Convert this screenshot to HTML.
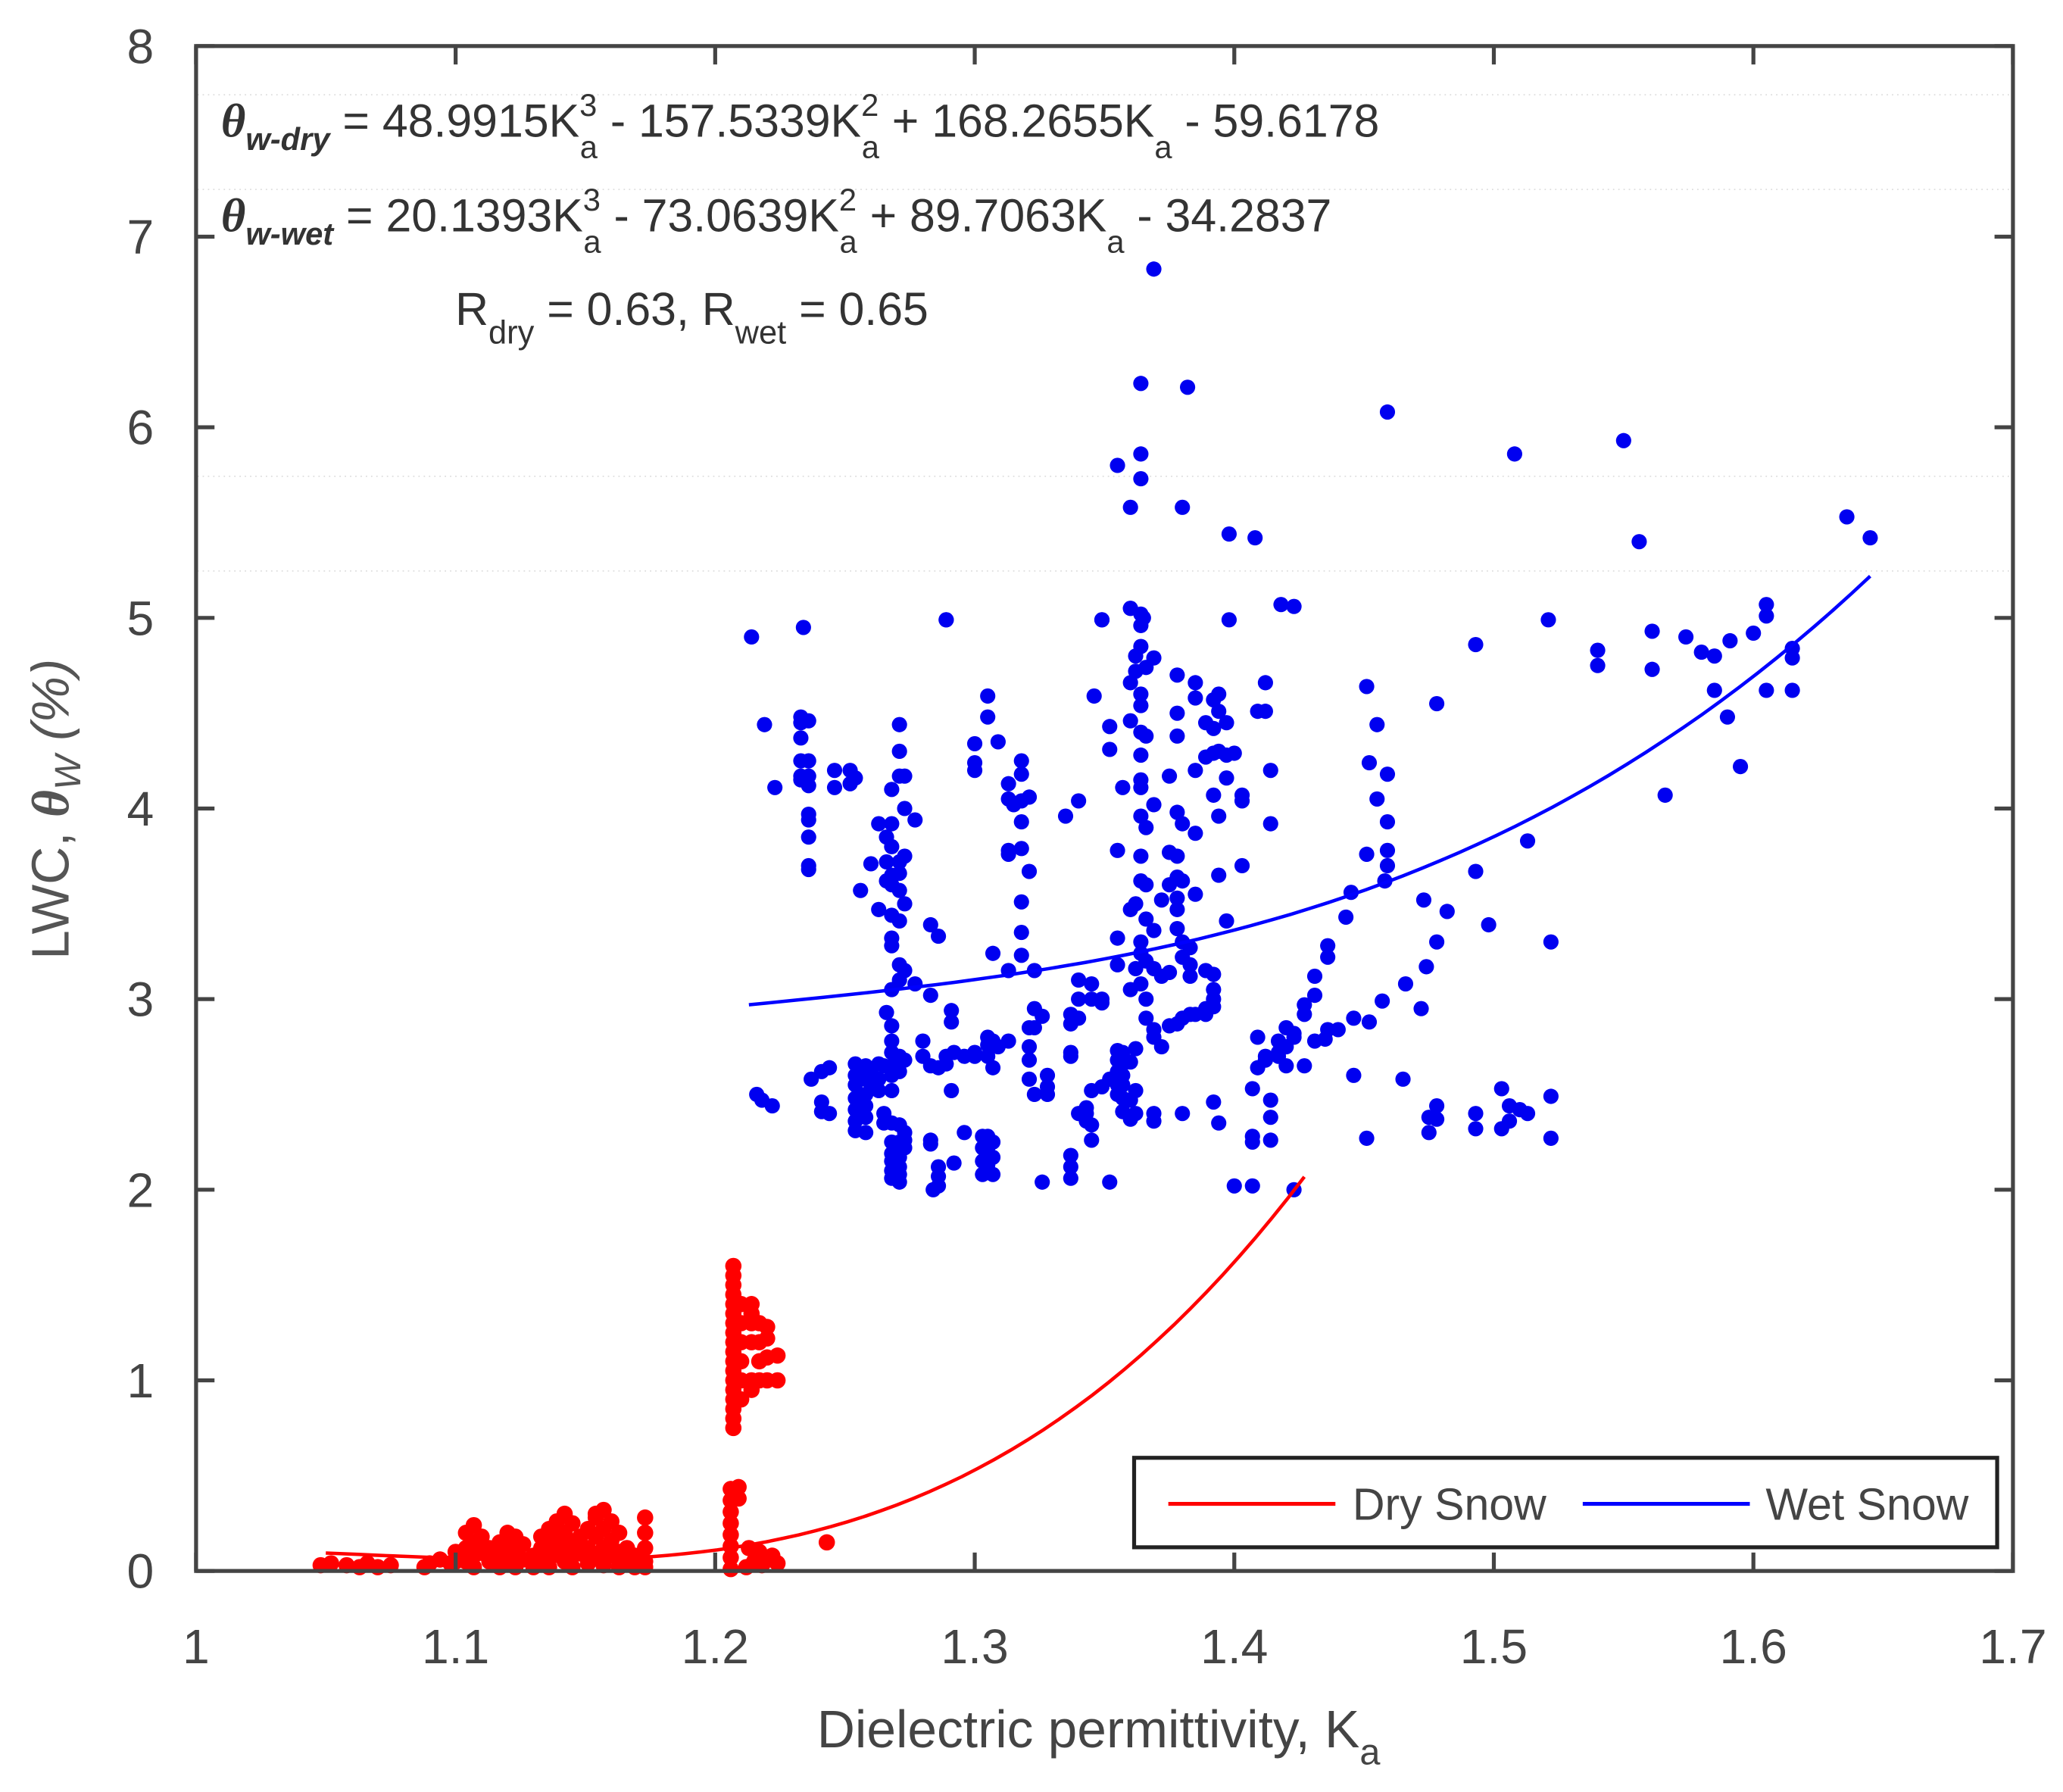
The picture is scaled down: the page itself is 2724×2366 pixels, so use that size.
<!DOCTYPE html>
<html><head><meta charset="utf-8"><style>
html,body{margin:0;padding:0;background:#fff;}
svg{display:block;font-family:"Liberation Sans",Arial,sans-serif;}
</style></head><body>
<svg id="chart" width="2724" height="2366" viewBox="0 0 1568 1362" xmlns="http://www.w3.org/2000/svg">
<rect width="1568" height="1362" fill="#fff"/>
<g id="grid" stroke="#ddd" stroke-width="1" stroke-dasharray="1,3">
<line x1="150" x2="1528" y1="72" y2="72"/><line x1="150" x2="1528" y1="144" y2="144"/>
<line x1="150" x2="1528" y1="362" y2="362"/><line x1="150" x2="1528" y1="434" y2="434"/>
</g>
<g id="marks"></g>
<g id="axes"></g>
<g fill="#333" font-size="35">
<text x="168" y="104"><tspan font-weight="bold" font-style="italic" font-family="Liberation Serif,serif" font-size="36">θ</tspan><tspan font-weight="bold" font-style="italic" font-size="24" dy="10">w-dry</tspan><tspan dy="-10"> = 48.9915K</tspan><tspan font-size="24" dy="-16">3</tspan><tspan font-size="24" dx="-13" dy="32">a</tspan><tspan dy="-16"> - 157.5339K</tspan><tspan font-size="24" dy="-16">2</tspan><tspan font-size="24" dx="-13" dy="32">a</tspan><tspan dy="-16"> + 168.2655K</tspan><tspan font-size="24" dy="16">a</tspan><tspan dy="-16"> - 59.6178</tspan></text>
<text x="168" y="176"><tspan font-weight="bold" font-style="italic" font-family="Liberation Serif,serif" font-size="36">θ</tspan><tspan font-weight="bold" font-style="italic" font-size="24" dy="10">w-wet</tspan><tspan dy="-10"> = 20.1393K</tspan><tspan font-size="24" dy="-16">3</tspan><tspan font-size="24" dx="-13" dy="32">a</tspan><tspan dy="-16"> - 73.0639K</tspan><tspan font-size="24" dy="-16">2</tspan><tspan font-size="24" dx="-13" dy="32">a</tspan><tspan dy="-16"> + 89.7063K</tspan><tspan font-size="24" dy="16">a</tspan><tspan dy="-16"> - 34.2837</tspan></text>
<text x="346" y="247">R<tspan font-size="25" dy="14">dry</tspan><tspan dy="-14"> = 0.63,  R</tspan><tspan font-size="25" dy="14">wet</tspan><tspan dy="-14"> = 0.65</tspan></text>
</g>
<text transform="translate(52,615) rotate(-90)" text-anchor="middle" font-size="40" fill="#555">LWC,  <tspan font-style="italic" font-weight="bold" font-family="Liberation Serif,serif">θ</tspan><tspan font-style="italic" font-size="28" dy="9">W</tspan><tspan dy="-9" font-style="italic"> (%)</tspan></text>
<text x="835" y="1328" text-anchor="middle" font-size="40" fill="#444">Dielectric permittivity, K<tspan font-size="28" dy="13">a</tspan></text>
<g>
<rect x="862" y="1108" width="656" height="68" fill="#fff" stroke="#222" stroke-width="3"/>
<line x1="888" x2="1015" y1="1143" y2="1143" stroke="#f00" stroke-width="3"/>
<text x="1028" y="1155" font-size="34" fill="#444">Dry Snow</text>
<line x1="1203" x2="1330" y1="1143" y2="1143" stroke="#00f" stroke-width="3"/>
<text x="1342" y="1155" font-size="34" fill="#444">Wet Snow</text>
</g>
</svg>
<script>
const xTicks=[1,1.1,1.2,1.3,1.4,1.5,1.6,1.7];
const xTickLabels=["1","1.1","1.2","1.3","1.4","1.5","1.6","1.7"];
const yTicks=[0,1,2,3,4,5,6,7,8];
const yTickLabels=["0","1","2","3","4","5","6","7","8"];
const dryCoef=[48.9915,-157.5339,168.2655,-59.6178];
const wetCoef=[20.1393,-73.0639,89.7063,-34.2837];
const dryRange=[1.05,1.427];
const wetRange=[1.213,1.645];
const wetX=[1.369,1.364,1.382,1.459,1.550,1.508,1.364,1.355,1.364,1.360,1.380,1.636,1.645,1.556,1.398,1.408,1.418,1.423,1.214,1.234,1.289,1.349,1.360,1.365,1.398,1.521,1.493,1.540,1.540,1.561,1.561,1.574,1.580,1.585,1.591,1.600,1.605,1.605,1.615,1.615,1.585,1.590,1.605,1.615,1.595,1.566,1.451,1.478,1.455,1.452,1.459,1.455,1.459,1.451,1.459,1.459,1.458,1.445,1.443,1.473,1.482,1.493,1.498,1.478,1.474,1.466,1.522,1.513,1.457,1.472,1.446,1.452,1.440,1.435,
1.216,1.218,1.222,1.219,1.223,1.233,1.233,1.233,1.233,1.233,1.233,1.236,1.236,1.236,1.236,1.236,1.236,1.236,1.236,1.236,1.237,1.241,1.241,1.241,1.244,1.244,1.246,1.246,1.252,1.252,1.254,1.254,1.254,1.254,1.254,1.254,1.254,1.254,1.258,1.258,1.258,1.258,1.258,1.258,1.256,1.260,1.260,1.260,1.263,1.263,1.263,1.263,1.263,1.265,1.265,1.265,1.266,1.266,1.266,1.266,
1.268,1.268,1.268,1.268,1.268,1.268,1.268,1.268,1.268,1.268,1.268,1.268,1.268,1.268,1.268,1.268,1.268,1.268,1.268,1.268,1.268,
1.271,1.271,1.271,1.271,1.271,1.271,1.271,1.271,1.271,1.271,1.271,1.271,1.271,1.271,1.271,1.271,1.271,
1.273,1.273,1.273,1.273,1.273,1.273,1.273,1.273,1.273,1.277,1.277,1.280,1.280,1.283,1.283,1.283,1.283,1.283,1.286,1.286,1.286,1.286,1.286,1.284,1.289,1.289,1.289,1.291,1.291,1.291,1.292,1.292,1.296,1.296,1.300,1.300,1.300,1.300,1.300,1.303,1.303,1.303,1.303,
1.305,1.305,1.305,1.305,1.305,1.305,1.305,1.305,1.305,1.307,1.307,1.307,1.307,1.307,1.307,1.309,1.309,1.313,1.313,1.313,1.313,1.313,1.313,1.315,1.318,1.318,1.318,1.318,1.318,1.318,1.318,1.318,1.321,1.321,1.321,1.321,1.321,1.321,1.323,1.323,1.323,1.323,1.326,1.326,1.328,1.328,1.328,1.335,
1.337,1.337,1.337,1.337,1.337,1.337,1.337,1.340,1.340,1.340,1.340,1.340,1.343,1.343,1.343,1.345,1.345,1.345,1.345,1.345,1.346,1.349,1.349,1.349,1.349,1.352,1.352,1.352,1.352,
1.355,1.355,1.355,1.355,1.355,1.355,1.355,1.355,1.357,1.357,1.357,1.357,1.357,1.357,1.357,1.360,1.360,1.360,1.360,1.360,1.360,1.360,1.360,1.362,1.362,1.362,1.362,1.362,1.362,1.362,
1.364,1.364,1.364,1.364,1.364,1.364,1.364,1.364,1.364,1.364,1.364,1.364,1.364,1.364,1.364,1.366,1.366,1.366,1.366,1.366,1.366,1.366,1.366,1.369,1.369,1.369,1.369,1.369,1.369,1.369,1.369,1.372,1.372,1.372,1.375,1.375,1.375,1.375,1.375,
1.378,1.378,1.378,1.378,1.378,1.378,1.378,1.378,1.378,1.378,1.380,1.380,1.380,1.380,1.380,1.380,1.383,1.383,1.383,1.383,1.385,1.385,1.385,1.385,1.385,1.385,1.389,1.389,1.389,1.389,1.389,
1.392,1.392,1.392,1.392,1.392,1.392,1.392,1.392,1.392,1.394,1.394,1.394,1.394,1.394,1.394,1.397,1.397,1.397,1.397,1.400,1.400,1.403,1.403,1.403,1.407,1.407,1.407,1.407,1.409,1.409,1.409,1.412,1.412,1.412,1.412,1.414,1.414,1.414,1.414,1.414,1.417,1.417,1.417,1.420,1.420,1.420,1.423,1.423,1.423,1.427,1.427,1.427,1.431,1.431,1.431,1.436,1.436,1.436,
1.446,1.451,1.475,1.475,1.478,1.478,1.493,1.493,1.503,1.503,1.506,1.506,1.510,1.513,1.522,1.522,1.465];
const wetY=[6.83,6.23,6.21,6.08,5.93,5.86,5.86,5.80,5.73,5.58,5.58,5.53,5.42,5.40,5.44,5.42,5.07,5.06,4.90,4.95,4.99,4.99,5.05,5.00,4.99,4.99,4.86,4.83,4.75,4.93,4.73,4.90,4.82,4.80,4.88,4.92,5.07,5.01,4.84,4.79,4.62,4.48,4.62,4.62,4.22,4.07,4.64,4.55,4.44,4.24,4.18,4.05,3.93,3.76,3.78,3.70,3.62,3.56,3.43,3.52,3.46,3.67,3.39,3.30,3.17,3.08,3.30,3.83,2.99,2.95,2.90,2.88,2.84,2.79,
2.50,2.47,2.44,4.44,4.11,4.48,4.45,4.37,4.25,4.17,4.15,4.46,4.25,4.17,4.12,3.97,3.94,3.85,3.70,3.68,2.58,2.62,2.46,2.41,2.64,2.40,4.20,4.11,4.20,4.13,4.16,2.66,2.60,2.55,2.48,2.42,2.36,2.31,2.65,2.58,2.50,2.44,2.38,2.30,3.57,3.71,2.62,2.55,3.92,3.47,2.66,2.58,2.52,2.65,2.40,2.35,3.85,3.72,3.62,2.93,
4.10,3.92,3.80,3.65,3.60,3.44,3.32,3.28,3.05,2.86,2.78,2.72,2.65,2.60,2.52,2.35,2.25,2.19,2.15,2.10,2.06,
4.44,4.30,4.17,3.72,3.66,3.57,3.41,3.18,3.10,2.70,2.62,2.34,2.25,2.17,2.12,2.08,2.04,
4.00,4.17,3.75,3.50,3.15,2.68,2.30,2.26,2.22,3.94,3.08,2.78,2.70,3.39,3.02,2.65,2.26,2.24,3.33,2.64,2.12,2.07,2.02,2.00,4.99,2.70,2.66,2.94,2.88,2.52,2.72,2.14,2.70,2.30,4.34,4.24,4.20,2.72,2.70,2.28,2.22,2.15,2.08,
4.59,4.48,2.80,2.76,2.70,2.28,2.22,2.13,2.09,2.78,3.24,2.64,2.25,2.17,2.08,4.35,2.75,4.13,4.05,3.78,3.76,3.15,2.78,4.02,4.25,4.18,4.04,3.93,3.79,3.51,3.35,3.23,4.06,3.67,2.85,2.75,2.68,2.58,3.15,2.95,2.85,2.50,2.91,2.04,2.60,2.54,2.50,3.96,
2.92,2.87,2.72,2.70,2.18,2.12,2.06,4.04,3.10,3.00,2.90,2.40,2.43,2.40,2.36,3.08,3.00,2.52,2.34,2.26,4.59,4.99,3.00,2.98,2.54,4.43,4.31,2.58,2.04,
3.78,3.32,3.18,2.73,2.68,2.62,2.55,2.50,4.11,2.72,2.66,2.60,2.55,2.48,2.41,5.05,4.66,4.46,3.47,3.05,2.67,2.47,2.37,4.80,4.72,3.50,3.16,2.74,2.52,2.40,
5.02,4.96,4.85,4.60,4.54,4.40,4.28,4.15,4.11,3.96,3.75,3.62,3.30,3.24,3.08,4.74,4.38,3.90,3.60,3.42,3.20,3.00,2.90,4.79,4.02,3.36,3.16,2.84,2.80,2.40,2.36,3.52,3.12,2.75,4.17,3.77,3.60,3.14,2.86,
4.70,4.50,4.38,3.98,3.75,3.64,3.53,3.47,3.37,2.87,3.92,3.62,3.30,3.22,2.90,2.40,3.27,3.18,3.12,2.92,4.66,4.58,4.20,3.87,3.55,2.92,4.45,4.27,3.15,2.95,2.92,
4.57,4.42,4.29,4.07,3.13,3.05,3.00,2.96,2.46,4.60,4.51,4.30,3.96,3.65,2.35,4.45,4.28,4.16,3.41,4.29,2.02,4.07,4.04,3.70,2.53,2.28,2.25,2.02,4.51,2.80,2.64,4.66,4.51,2.70,2.68,4.20,3.92,2.47,2.26,2.38,2.78,2.72,2.70,2.85,2.75,2.65,2.82,2.80,2.00,2.97,2.92,2.65,3.12,3.02,2.78,3.22,3.28,2.84,
2.60,2.27,2.38,2.30,2.44,2.37,2.40,2.32,2.53,2.32,2.44,2.36,2.42,2.40,2.49,2.27,2.58];
const dryX=[1.048,1.052,1.058,1.063,1.066,1.070,1.075,1.088,1.090,1.094,1.098,1.100,1.100,1.104,1.104,1.104,1.107,1.107,1.107,1.107,1.110,1.110,1.113,1.113,1.117,1.117,1.117,1.120,1.120,1.120,1.123,1.123,1.123,1.126,1.126,1.130,1.130,1.133,1.133,1.133,1.136,1.136,1.136,1.136,1.139,1.139,1.139,1.142,1.142,1.142,1.142,1.145,1.145,1.145,1.145,1.148,1.148,1.151,1.151,1.151,1.154,1.154,1.154,1.154,1.157,1.157,1.157,1.157,1.160,1.160,1.160,1.163,1.163,1.163,1.166,1.166,1.169,1.169,1.173,1.173,1.173,1.173,1.173,
1.206,1.206,1.206,1.206,1.206,1.206,1.206,1.206,1.209,1.209,
1.207,1.207,1.207,1.207,1.207,1.207,1.207,1.207,1.207,1.207,1.207,1.207,1.207,1.207,1.207,1.207,1.207,1.207,
1.210,1.210,1.210,1.210,1.210,1.210,1.214,1.214,1.214,1.214,1.214,1.214,1.217,1.217,1.217,1.217,1.220,1.220,1.220,1.220,1.224,1.224,
1.212,1.215,1.218,1.221,1.224,1.213,1.217,1.222,1.243];
const dryY=[0.03,0.04,0.03,0.02,0.04,0.02,0.03,0.02,0.04,0.06,0.04,0.05,0.10,0.12,0.20,0.05,0.24,0.15,0.08,0.02,0.18,0.10,0.12,0.05,0.15,0.08,0.02,0.20,0.12,0.04,0.18,0.10,0.02,0.14,0.06,0.08,0.02,0.18,0.12,0.05,0.22,0.14,0.06,0.02,0.26,0.18,0.10,0.30,0.20,0.12,0.05,0.25,0.15,0.08,0.02,0.18,0.10,0.22,0.12,0.04,0.28,0.30,0.18,0.08,0.32,0.22,0.12,0.03,0.26,0.16,0.08,0.20,0.10,0.02,0.12,0.05,0.08,0.02,0.28,0.20,0.12,0.05,0.02,
0.43,0.37,0.31,0.25,0.19,0.13,0.07,0.01,0.44,0.38,
1.60,1.55,1.50,1.45,1.40,1.35,1.30,1.25,1.20,1.15,1.10,1.05,1.00,0.95,0.90,0.85,0.80,0.75,
1.40,1.30,1.20,1.10,1.00,0.90,1.40,1.35,1.30,1.20,1.00,0.95,1.30,1.20,1.10,1.00,1.28,1.22,1.12,1.00,1.13,1.00,
0.02,0.05,0.03,0.06,0.04,0.12,0.10,0.08,0.15];

const NS="http://www.w3.org/2000/svg";
const L=149,R=1530,T=35,B=1194;
function X(v){return L+(v-1)/0.7*(R-L);}
function Y(v){return B-v/8*(B-T);}
function poly(c,k){return c[0]*k*k*k+c[1]*k*k+c[2]*k+c[3];}
const marks=document.getElementById('marks');
const axes=document.getElementById('axes');

const gWet=document.createElementNS(NS,'g');


marks.appendChild(gWet);
for(let i=0;i<wetX.length;i++){
  const c=document.createElementNS(NS,'circle');
  c.setAttribute('cx',X(wetX[i]));c.setAttribute('cy',Y(wetY[i]));c.setAttribute('r',5.8);c.setAttribute('fill','#0000f0');
  
  
  gWet.appendChild(c);
}
const gDry=document.createElementNS(NS,'g');


marks.appendChild(gDry);
for(let i=0;i<dryX.length;i++){
  const c=document.createElementNS(NS,'circle');
  c.setAttribute('cx',X(dryX[i]));c.setAttribute('cy',Y(dryY[i]));c.setAttribute('r',6.2);c.setAttribute('fill','#f00');
  
  
  gDry.appendChild(c);
}
function curve(coef,rng,color,name){
  let d='';
  for(let i=0;i<=60;i++){const k=rng[0]+(rng[1]-rng[0])*i/60;d+=(i?'L':'M')+X(k).toFixed(1)+','+Y(poly(coef,k)).toFixed(1);}
  const p=document.createElementNS(NS,'path');
  p.setAttribute('d',d);p.setAttribute('fill','none');p.setAttribute('stroke',color);p.setAttribute('stroke-width',2.6);
  
  
  marks.appendChild(p);
}
curve(dryCoef,dryRange,'#f00','dry-fit-curve');
curve(wetCoef,wetRange,'#00f','wet-fit-curve');

const fr=document.createElementNS(NS,'rect');
fr.setAttribute('x',L);fr.setAttribute('y',T);fr.setAttribute('width',R-L);fr.setAttribute('height',B-T);
fr.setAttribute('fill','none');fr.setAttribute('stroke','#444');fr.setAttribute('stroke-width',3);


axes.appendChild(fr);
function ln(x1,y1,x2,y2){const l=document.createElementNS(NS,'line');l.setAttribute('x1',x1);l.setAttribute('y1',y1);l.setAttribute('x2',x2);l.setAttribute('y2',y2);l.setAttribute('stroke','#444');l.setAttribute('stroke-width',3);


axes.appendChild(l);}
function tx(x,y,s,anchor){const t=document.createElementNS(NS,'text');t.setAttribute('x',x);t.setAttribute('y',y);t.setAttribute('text-anchor',anchor);t.setAttribute('font-size',37);t.setAttribute('fill','#444');t.textContent=s;


axes.appendChild(t);}
xTicks.forEach((v,i)=>{const x=X(v);ln(x,B,x,B-14);ln(x,T,x,T+14);tx(x,B+70,xTickLabels[i],'middle');});
yTicks.forEach((v,i)=>{const y=Y(v);ln(L,y,L+14,y);ln(R,y,R-14,y);tx(L-32,y+13,yTickLabels[i],'end');});
</script>
</body></html>
